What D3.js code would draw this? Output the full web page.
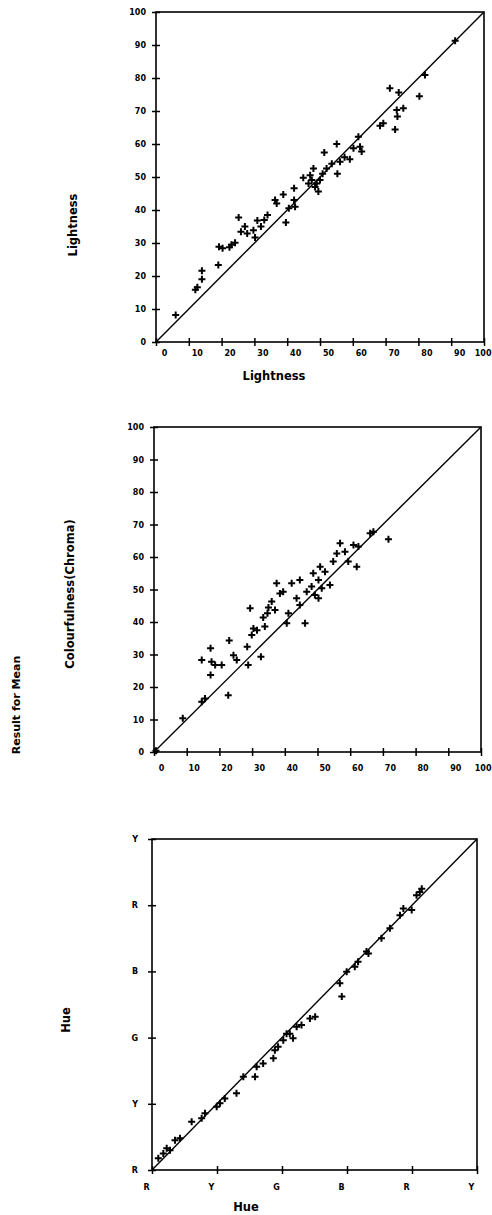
<!DOCTYPE html>
<html>
<head>
<meta charset="utf-8">
<script src="https://cdn.jsdelivr.net/npm/d3@7"></script>
<style>
  body { margin: 0; background: #fff; }
  text { font-family: "DejaVu Sans", sans-serif; font-weight: bold; fill: #000; }
</style>
</head>
<body>
<script>
// lightness: visual result (x) vs model (y)
const lightX = [6, 12, 12.6, 14, 14, 19, 19.2, 20.3, 22.4, 24.1, 25.2, 25.9, 27.1, 27.8, 29.7, 30.2, 30.9, 32, 34, 36.3, 36.8, 38.8,
  39.6, 40.5, 42.4, 42.1, 42.1, 44.9, 46.5, 47.5, 48, 48.5, 49.5, 50, 50.8, 51.3, 52, 53.6, 55.1, 55.3, 56.1, 57.5, 59.1, 60.2,
  61.7, 62.2, 62.7, 68.3, 69.3, 71.3, 72.9, 73.4, 73.6, 74, 75.4, 80.3, 82, 91.2, 47, 49, 33, 23];
const lightY = [8.2, 15.8, 16.6, 21.6, 19, 23.3, 28.9, 28.4, 28.7, 30.1, 37.7, 33.4, 35, 32.9, 33.9, 31.7, 36.8, 35, 38.5, 43, 42,
  44.7, 36.2, 40.5, 41, 46.6, 43, 49.8, 48, 49.1, 52.6, 47, 45.6, 49.1, 51, 57.4, 52.6, 54, 60, 51, 54.6, 56, 55.4, 58.7,
  62.2, 59.2, 57.7, 65.5, 66.3, 76.9, 64.4, 70.3, 68.3, 75.6, 70.8, 74.5, 80.9, 91.3, 50.5, 48, 37, 29.5];

// colourfulness (chroma)
const chromaX = [0.6, 8.8, 14.6, 15.6, 14.6, 17.3, 17.3, 17.6, 18.7, 20.7, 22.7, 23, 24.3, 25.3, 28.8, 28.5, 29.4, 29.9, 30.4,
  32.7, 33.4, 33.9, 34.7, 36, 37, 37.5, 38.5, 39.5, 40.6, 41.1, 42.1, 43.6, 44.6, 44.6, 46.2, 46.7, 48.2, 48.7, 49.2, 50.3,
  50.3, 50.8, 51.3, 52.3, 53.8, 54.8, 55.9, 56.9, 58.4, 59.4, 61, 62, 62.5, 66.1, 67.1, 71.7, 35, 31.5];
const chromaY = [0.4, 10.4, 15.5, 16.5, 28.3, 31.9, 23.7, 27.8, 26.8, 26.8, 17.5, 34.3, 29.8, 28.3, 26.8, 32.4, 44.2, 36, 38,
  29.3, 41.4, 38.6, 42.7, 46.3, 43.7, 51.9, 48.8, 49.3, 39.6, 42.7, 51.9, 47.3, 52.9, 45.2, 39.6, 49.3, 50.9, 55, 48.3, 52.9,
  47.3, 57, 50.4, 55.5, 51.4, 58.6, 61.1, 64.2, 61.6, 58.6, 63.7, 57, 63.2, 67.3, 67.8, 65.5, 44.5, 37.5];

// hue quadrature, 0..500
const hueX = [9.7, 17.4, 22.6, 27.7, 35.4, 43, 61, 76.4, 81.5, 99.5, 104.6, 112, 130, 140.5, 158.5, 161, 171, 186.7, 189, 194,
  202, 207, 212, 217, 222.5, 230, 243, 251, 289, 292, 299.5, 312, 317, 330, 333, 353, 366, 381.5, 386.7, 399.5, 407, 412, 415];
const hueY = [17.6, 25, 32.7, 30, 45, 47.8, 73, 78, 85.6, 95.7, 100.7, 108, 115.8, 141, 141, 156, 161, 168.7, 181, 186, 196,
  206, 206, 199, 216.5, 219, 229, 231.6, 282, 262, 299.6, 307, 314.7, 330, 327, 350, 365, 385, 395, 392.7, 415, 420, 425];

const numTicks = d3.range(0, 101, 10);
const numLabels = numTicks.map(String);
const hueTicks = [0, 100, 200, 300, 400, 500];
const hueLabels = ["R", "Y", "G", "B", "R", "Y"];

const svg = d3.select("body").append("svg")
    .attr("width", 492)
    .attr("height", 1215);

const plus = "M-3.5,0H3.5M0,-3.5V3.5";

function panel(p) {
    let x = d3.scaleLinear().domain(p.domain).range(p.xr);
    let y = d3.scaleLinear().domain(p.domain).range(p.yr);
    const g = svg.append("g");

    g.append("rect")
        .attr("x", p.xr[0]).attr("y", p.yr[1])
        .attr("width", p.xr[1] - p.xr[0]).attr("height", p.yr[0] - p.yr[1])
        .attr("fill", "none").attr("stroke", "#000").attr("stroke-width", 1.6);

    g.append("line")
        .attr("x1", x(p.domain[0])).attr("y1", y(p.domain[0]))
        .attr("x2", x(p.domain[1])).attr("y2", y(p.domain[1]))
        .attr("stroke", "#000").attr("stroke-width", 1.4);

    const xa = g.append("g")
        .attr("transform", `translate(0,${p.yr[0]})`)
        .call(d3.axisBottom(x).tickValues(p.ticks).tickFormat((d, i) => p.labels[i]));
    xa.select(".domain").remove();
    xa.selectAll(".tick line").attr("y1", -4).attr("y2", 4).attr("stroke-width", 1.5);
    xa.selectAll(".tick text")
        .attr("y", p.xLabY).attr("dy", 0).attr("dx", p.xLabDx)
        .attr("font-size", 8).attr("font-family", null);
    // the last number label is squeezed against the page edge
    if (p.lastEnd) {
        xa.selectAll(".tick:last-of-type text")
            .attr("text-anchor", "end").attr("dx", p.lastEnd);
    }

    const ya = g.append("g")
        .attr("transform", `translate(${p.xr[0]},0)`)
        .call(d3.axisLeft(y).tickValues(p.ticks).tickFormat((d, i) => p.labels[i]));
    ya.select(".domain").remove();
    ya.selectAll(".tick line").attr("x1", -4).attr("x2", 4).attr("stroke-width", 1.5);
    ya.selectAll(".tick text")
        .attr("x", p.yLabX).attr("font-size", 8).attr("font-family", null);

    g.append("g")
        .selectAll("path")
        .data(p.xs.map((v, i) => [v, p.ys[i]]))
        .join("path")
        .attr("transform", d => `translate(${x(d[0])},${y(d[1])})`)
        .attr("d", plus)
        .attr("stroke", "#000")
        .attr("stroke-width", 2)
        .attr("fill", "none");

    if (p.xTitle) {
        g.append("text")
            .attr("x", p.xTitle[1]).attr("y", p.xTitle[2])
            .attr("text-anchor", "middle").attr("font-size", 11.5)
            .text(p.xTitle[0]);
    }
    g.append("text")
        .attr("transform", `translate(${p.yTitle[1]},${p.yTitle[2]}) rotate(-90)`)
        .attr("text-anchor", "middle").attr("font-size", 11.5)
        .text(p.yTitle[0]);
}

panel({
    domain: [0, 100], xr: [156, 484], yr: [342, 12],
    ticks: numTicks, labels: numLabels, xLabY: 14, xLabDx: 8, yLabX: -10, lastEnd: 7,
    xs: lightX, ys: lightY,
    xTitle: ["Lightness", 274, 380], yTitle: ["Lightness", 77, 225]
});

panel({
    domain: [0, 100], xr: [154, 481], yr: [752, 427],
    ticks: numTicks, labels: numLabels, xLabY: 19, xLabDx: 7, yLabX: -10, lastEnd: 10,
    xs: chromaX, ys: chromaY,
    yTitle: ["Colourfulness(Chroma)", 74, 594]
});

panel({
    domain: [0, 500], xr: [152, 477], yr: [1170, 839],
    ticks: hueTicks, labels: hueLabels, xLabY: 20, xLabDx: -6, yLabX: -14,
    xs: hueX, ys: hueY,
    xTitle: ["Hue", 246, 1211], yTitle: ["Hue", 70, 1020]
});

svg.append("text")
    .attr("transform", "translate(20,705) rotate(-90)")
    .attr("text-anchor", "middle").attr("font-size", 11)
    .text("Result for Mean");
</script>
</body>
</html>
